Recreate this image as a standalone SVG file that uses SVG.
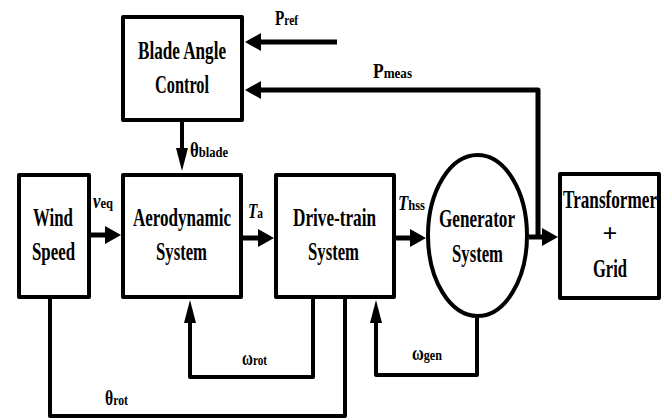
<svg xmlns="http://www.w3.org/2000/svg" width="670" height="419" viewBox="0 0 670 419">
<style>
.box{fill:#fff;stroke:#000;stroke-width:4;stroke-linejoin:round}
.t{font-family:"Liberation Serif","DejaVu Serif",serif;font-weight:bold;font-size:26px;fill:#000;text-anchor:middle}
.s{font-family:"Liberation Serif","DejaVu Serif",serif;font-weight:bold;font-size:20px;fill:#000}
.sub{font-size:15px}
.it{font-style:italic}
.w{fill:none;stroke:#000;stroke-width:5;stroke-linejoin:round}
.f{fill:none;stroke:#000;stroke-width:4;stroke-linejoin:round}
</style>
<defs>
<marker id="ah" markerUnits="userSpaceOnUse" markerWidth="16" markerHeight="18" viewBox="0 0 16 18" refX="0" refY="9" orient="auto"><path d="M0,0 L16,9 L0,18 z" fill="#000"/></marker>
<marker id="av" markerUnits="userSpaceOnUse" markerWidth="23" markerHeight="12" viewBox="0 0 23 12" refX="0" refY="6" orient="auto"><path d="M0,0 L23,6 L0,12 z" fill="#000"/></marker>
</defs>
<rect width="670" height="419" fill="#fff"/>
<g id="connectors">
<path class="w" d="M337,42 H261" marker-end="url(#ah)"/>
<path class="w" d="M538,237 V90 H261" marker-end="url(#ah)"/>
<path class="f" d="M182,122 V148" marker-end="url(#av)"/>
<path class="w" d="M91,235 H105" marker-end="url(#ah)"/>
<path class="w" d="M243,238 H258" marker-end="url(#ah)"/>
<path class="w" d="M396,238 H410" marker-end="url(#ah)"/>
<path class="w" d="M529,237 H542" marker-end="url(#ah)"/>
<path class="f" d="M50,299 V416 H345 V299"/>
<path class="f" d="M313,299 V377 H190 V323" marker-end="url(#av)"/>
<path class="f" d="M477,318 V375 H376 V323" marker-end="url(#av)"/>
</g>
<g id="labels">
<text class="s" x="275" y="25" textLength="23" lengthAdjust="spacingAndGlyphs">P<tspan class="sub">ref</tspan></text>
<text class="s" x="373" y="78" textLength="39" lengthAdjust="spacingAndGlyphs">P<tspan class="sub">meas</tspan></text>
<text class="s" x="190" y="157" textLength="38" lengthAdjust="spacingAndGlyphs">θ<tspan class="sub">blade</tspan></text>
<text class="s" x="93" y="208" textLength="20" lengthAdjust="spacingAndGlyphs"><tspan class="it">v</tspan><tspan class="sub">eq</tspan></text>
<text class="s" x="248" y="218" textLength="15" lengthAdjust="spacingAndGlyphs"><tspan class="it">T</tspan><tspan class="sub">a</tspan></text>
<text class="s" x="398" y="210" textLength="27" lengthAdjust="spacingAndGlyphs"><tspan class="it">T</tspan><tspan class="sub">hss</tspan></text>
<text class="s" x="242" y="365" textLength="25" lengthAdjust="spacingAndGlyphs">ω<tspan class="sub">rot</tspan></text>
<text class="s" x="412" y="360" textLength="30" lengthAdjust="spacingAndGlyphs">ω<tspan class="sub">gen</tspan></text>
<text class="s" x="105" y="405" textLength="23" lengthAdjust="spacingAndGlyphs">θ<tspan class="sub">rot</tspan></text>
</g>
<g id="blade">
<rect class="box" x="123" y="17" width="119" height="103"/>
<text class="t" x="182" y="59" textLength="88" lengthAdjust="spacingAndGlyphs">Blade Angle</text>
<text class="t" x="182" y="93" textLength="54" lengthAdjust="spacingAndGlyphs">Control</text>
</g>
<g id="wind">
<rect class="box" x="19" y="175" width="70" height="122"/>
<text class="t" x="53" y="226" textLength="40" lengthAdjust="spacingAndGlyphs">Wind</text>
<text class="t" x="53.5" y="260" textLength="43" lengthAdjust="spacingAndGlyphs">Speed</text>
</g>
<g id="aero">
<rect class="box" x="123" y="175" width="118" height="122"/>
<text class="t" x="182" y="226" textLength="98" lengthAdjust="spacingAndGlyphs">Aerodynamic</text>
<text class="t" x="181.5" y="260" textLength="51" lengthAdjust="spacingAndGlyphs">System</text>
</g>
<g id="drivetrain">
<rect class="box" x="276" y="175" width="118" height="122"/>
<text class="t" x="334.5" y="226" textLength="83" lengthAdjust="spacingAndGlyphs">Drive-train</text>
<text class="t" x="333.5" y="260" textLength="51" lengthAdjust="spacingAndGlyphs">System</text>
</g>
<g id="generator">
<ellipse class="box" cx="477.5" cy="235.5" rx="49.5" ry="80.5"/>
<text class="t" x="477" y="227" textLength="76" lengthAdjust="spacingAndGlyphs">Generator</text>
<text class="t" x="477.5" y="262" textLength="51" lengthAdjust="spacingAndGlyphs">System</text>
</g>
<g id="transformer">
<rect class="box" x="560" y="174" width="99" height="124"/>
<text class="t" x="610" y="208" textLength="94" lengthAdjust="spacingAndGlyphs">Transformer</text>
<text class="t" x="610" y="242">+</text>
<text class="t" x="610" y="277" textLength="34" lengthAdjust="spacingAndGlyphs">Grid</text>
</g>
</svg>
